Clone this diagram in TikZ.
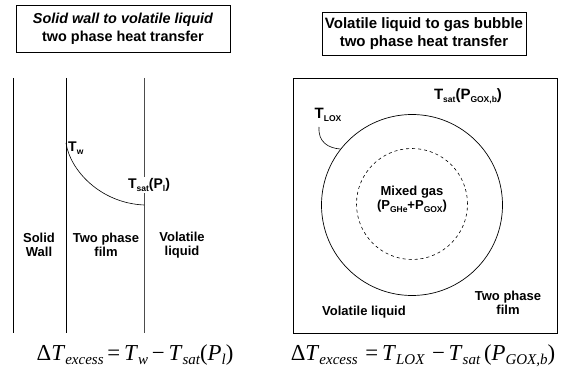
\documentclass[tikz,border=0pt]{standalone}
\usepackage{fontspec}
\setmainfont{Liberation Sans}
\newfontfamily\eqfont{Liberation Serif}
\newcommand{\lsub}[1]{\raisebox{-0.4ex}{\fontsize{8.5}{9}\selectfont #1}}
\newcommand{\esub}[1]{\raisebox{-0.45ex}{\fontsize{15}{16}\selectfont\itshape #1}}
\begin{document}
\begin{tikzpicture}[x=1pt,y=-1pt,
  lbl/.style={font=\fontsize{13}{14.5}\selectfont\bfseries, align=center, inner sep=1pt},
  tlbl/.style={font=\fontsize{14}{15}\selectfont\bfseries, align=center, inner sep=1pt},
  titlebox/.style={draw, line width=0.7pt, align=center, font=\fontsize{14.4}{18}\selectfont\bfseries, inner sep=0pt},
  wall/.style={line width=0.7pt},
  eq/.style={font=\eqfont\fontsize{22.8}{26}\selectfont, inner sep=0pt, anchor=base}
]
\useasboundingbox (0,0) rectangle (568,385);

% ---------- left panel ----------
\node[titlebox, minimum width=214pt, minimum height=47pt] (ltitle) at (123,28.5)
  {\itshape Solid wall to volatile liquid\\two phase heat transfer};

\coordinate (w1t) at (13,78);  \coordinate (w1b) at (13,333);
\coordinate (w2t) at (66,78);  \coordinate (w2b) at (66,333);
\coordinate (w3t) at (144,78); \coordinate (w3b) at (144,333);
\draw[wall] (w1t) -- (w1b);
\draw[wall] (w2t) -- (w2b);
\draw[wall, black!70] (w3t) -- (w3b);

\coordinate (tw) at (66,143);
\coordinate (ts) at (144,205);
\draw[line width=0.6pt] (tw) .. controls (70,170) and (100,203) .. (ts);

\node[tlbl, anchor=west] (twl) at (67,148) {T\lsub{w}};
\node[tlbl, fill=white] (tsl) at (149,185) {T\lsub{sat}(P\lsub{l})};

\node[lbl] (solid) at (39,245) {Solid\\Wall};
\node[lbl] (film) at (106,245) {Two phase\\film};
\node[lbl] (liq) at (182,245) {Volatile\\liquid};

\node[eq] (leq) at (135,360)
  {Δ\textit{T}\esub{excess}\,=\,\textit{T}\esub{w}\,−\,\textit{T}\esub{sat}(\textit{P}\esub{l})};

% ---------- right panel ----------
\node[titlebox, font=\fontsize{15}{18}\selectfont\bfseries, minimum width=204pt, minimum height=43pt] (rtitle) at (424,33.5)
  {Volatile liquid to gas bubble\\two phase heat transfer};

\node[draw, line width=0.7pt, minimum width=264pt, minimum height=255pt, inner sep=0pt] (frame) at (425,205.5) {};

\node[draw, circle, line width=0.7pt, minimum size=181pt, inner sep=0pt] (bubble) at (412,205) {};
\node[draw, circle, dashed, line width=0.6pt, minimum size=111pt, inner sep=0pt] (gas) at (412,204) {};

\node[lbl] (mix) at (412,199) {Mixed gas\\(P\lsub{GHe}+P\lsub{GOX})};

\node[tlbl, font=\fontsize{15}{16}\selectfont\bfseries] (tlox) at (328,115) {T\lsub{LOX}};
\draw[line width=0.6pt] (319,127) .. controls (318,142) and (328,148) .. (bubble.142);

\node[tlbl, font=\fontsize{15}{16}\selectfont\bfseries] (tsatb) at (468,96) {T\lsub{sat}(P\lsub{GOX,b})};

\node[lbl] (vliq) at (364,312) {Volatile liquid};
\node[lbl] (tpf) at (508,303) {Two phase\\film};

\node[eq] (req) at (423,360)
  {Δ\textit{T}\esub{excess}\,\,=\,\textit{T}\esub{LOX}\,\,−\,\textit{T}\esub{sat}\,(\textit{P}\esub{GOX,b})};
\end{tikzpicture}
\end{document}
